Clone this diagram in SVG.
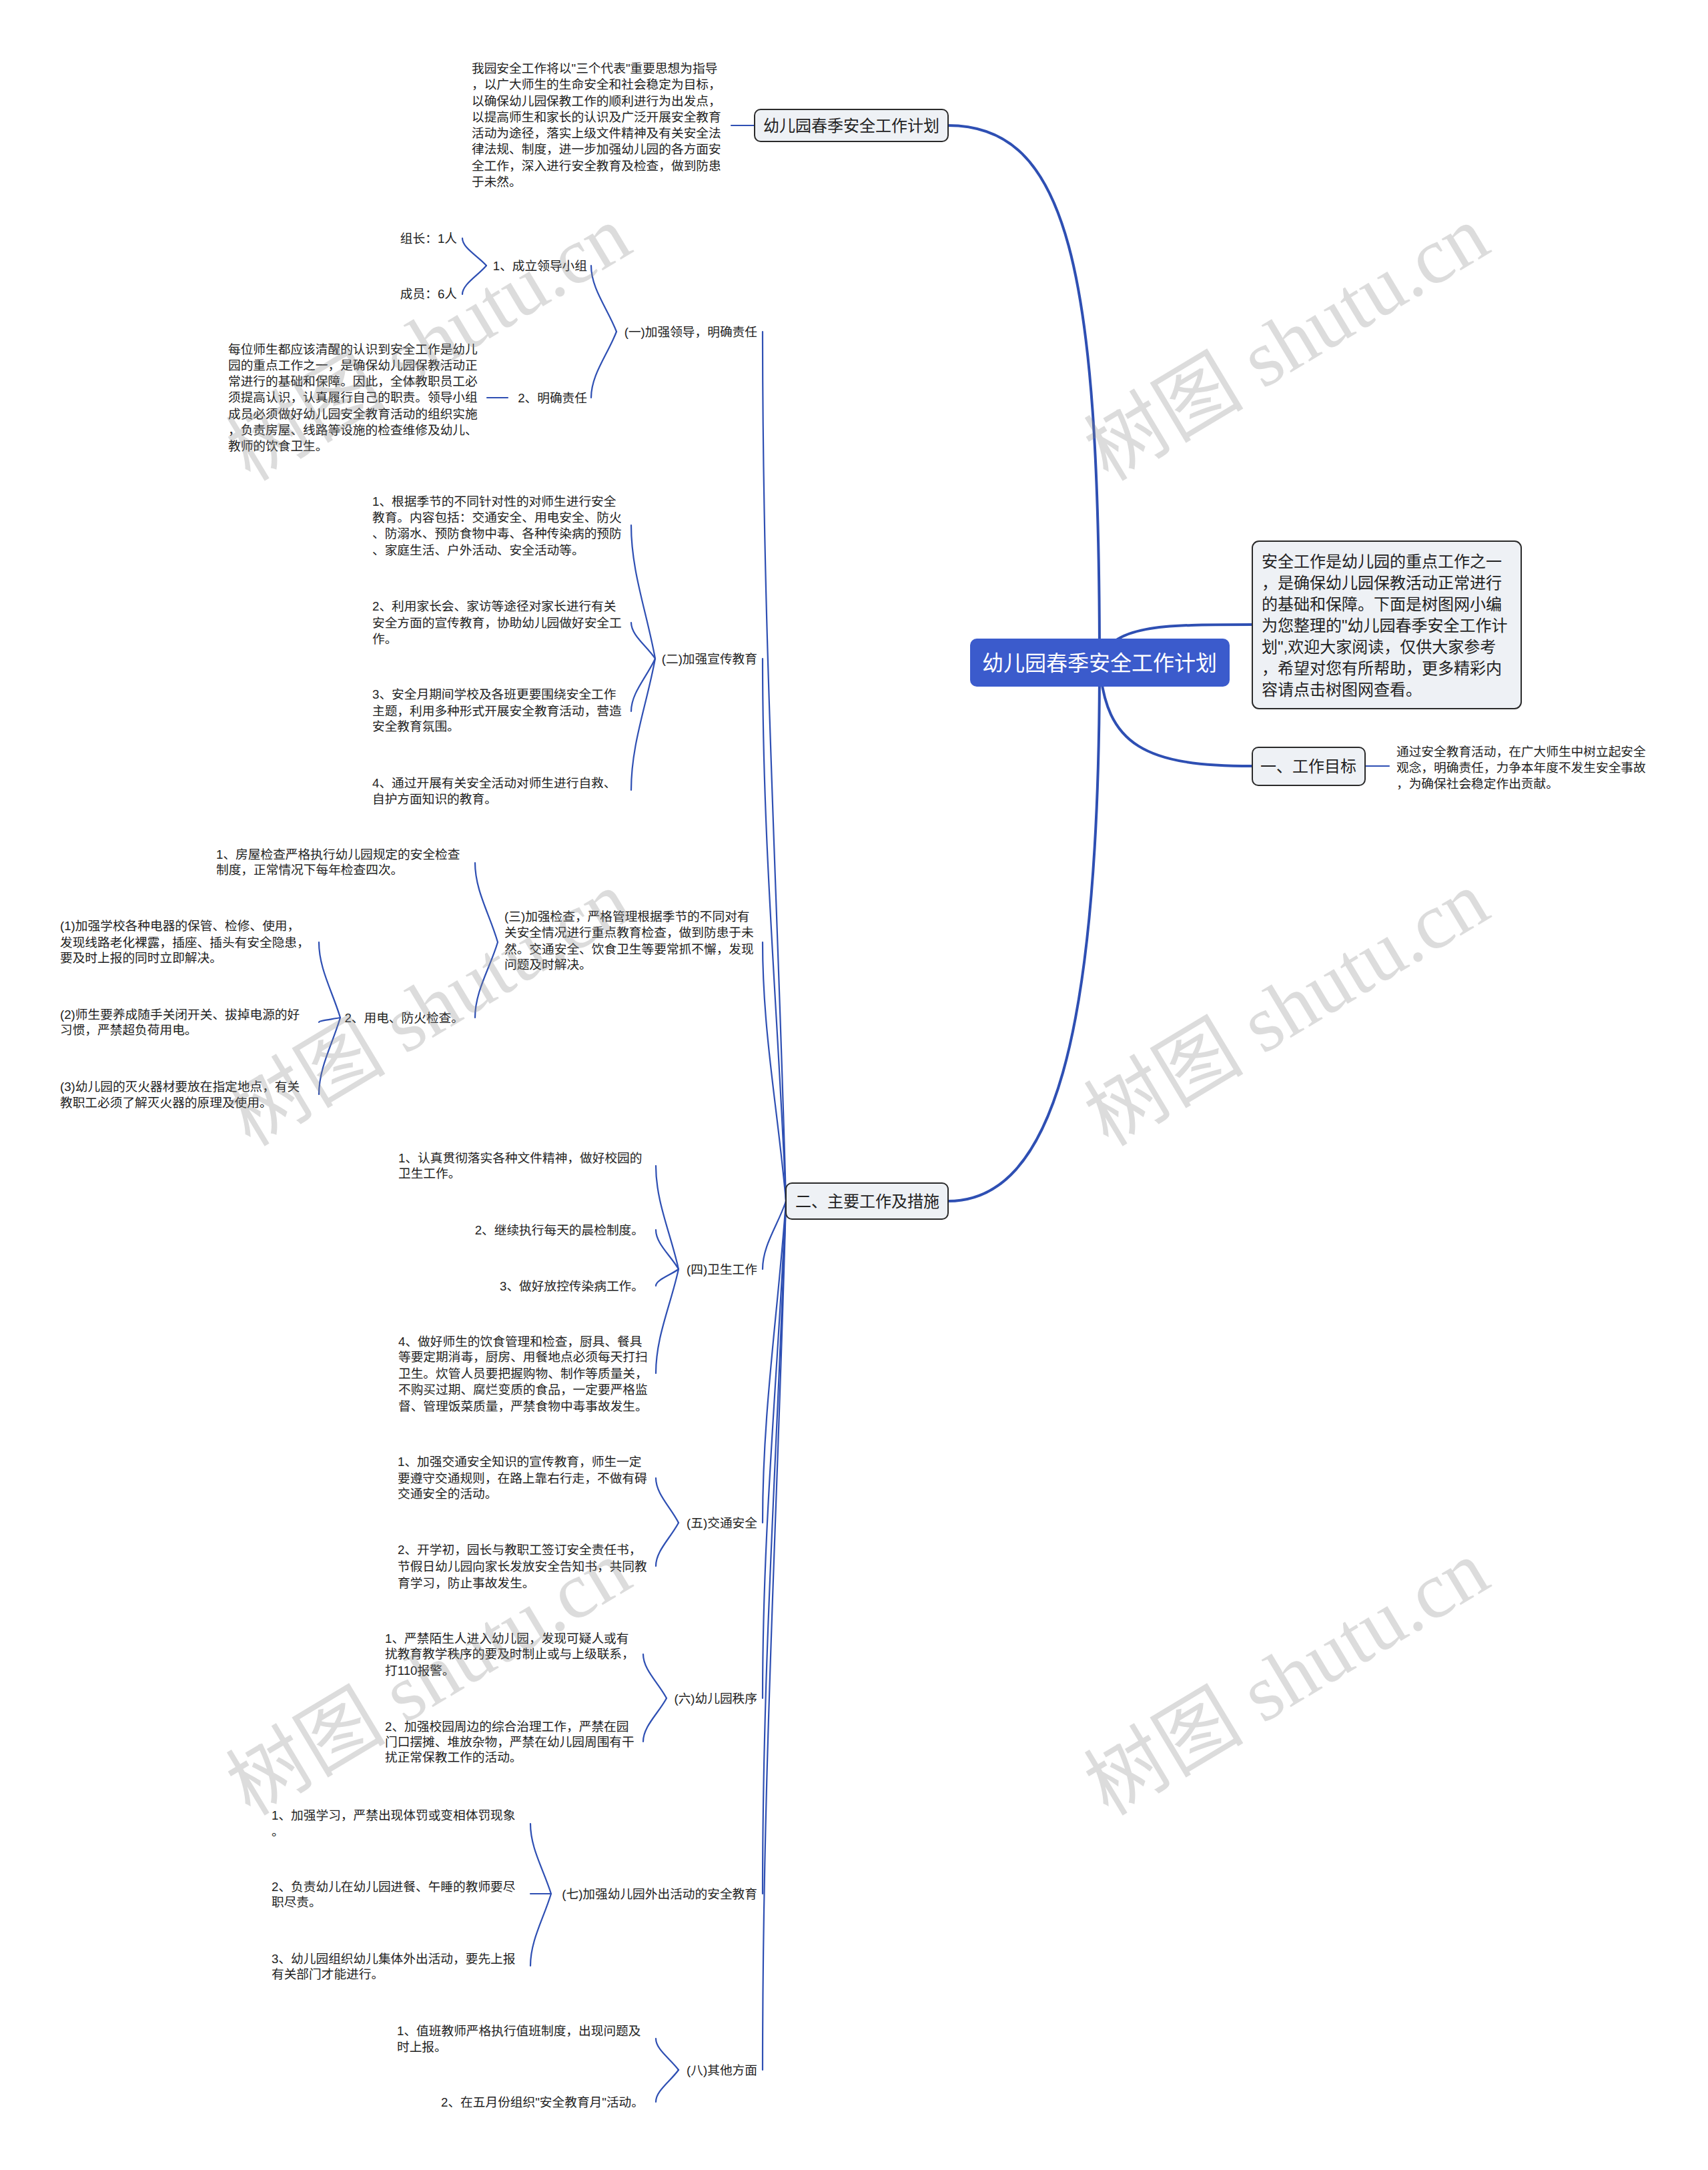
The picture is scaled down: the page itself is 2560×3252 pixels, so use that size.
<svg xmlns="http://www.w3.org/2000/svg" width="2560" height="3252" viewBox="0 0 2560 3252">
<style>
text { font-family: 'Liberation Sans', 'Noto Sans CJK SC', sans-serif; fill: #222; }
.s { font-size: 18.7px; }
.m { font-size: 24px; }
.c { font-size: 32px; fill: #ffffff; }
.e { text-anchor: end; }
.mid { text-anchor: middle; }
.box { fill: #eef1f5; stroke: #2a2a2a; stroke-width: 2; }
.root { fill: #3b5bcc; }
.main { fill: none; stroke: #2e4fb3; stroke-width: 4; stroke-linecap: round; }
.sub { fill: none; stroke: #2e4fb3; stroke-width: 2.2; stroke-linecap: round; }
.wm { font-family: 'Liberation Serif', 'Noto Sans CJK SC', serif; font-size: 120px; fill: #8a8a8a; fill-opacity: 0.3; text-anchor: middle; }
</style>
<rect width="2560" height="3252" fill="#ffffff"/>

<g id="connectors">
  <path class="main" d="M1648,993 C1648,400 1600,188 1421,188"/>
  <path class="main" d="M1648,993 C1665,936 1740,936 1877,936"/>
  <path class="main" d="M1648,993 C1656,1120 1720,1148 1877,1148"/>
  <path class="main" d="M1648,993 C1648,1556 1577,1800 1421,1800"/>
  <path class="sub" d="M1096,188 L1131,188"/>
  <path class="sub" d="M2047,1148 L2082,1148"/>
  <path class="sub" d="M761,596 L730,596"/>
  <path class="sub" d="M1178,1800 C1166,1344 1143,953 1143,497"/>
  <path class="sub" d="M1178,1800 C1166,1515 1143,1272 1143,987"/>
  <path class="sub" d="M1178,1800 C1166,1664 1143,1548 1143,1412"/>
  <path class="sub" d="M1178,1800 C1166,1836 1143,1866 1143,1902"/>
  <path class="sub" d="M1178,1800 C1166,1969 1143,2113 1143,2282"/>
  <path class="sub" d="M1178,1800 C1166,2061 1143,2284 1143,2545"/>
  <path class="sub" d="M1178,1800 C1166,2163 1143,2475 1143,2838"/>
  <path class="sub" d="M1178,1800 C1166,2256 1143,2646 1143,3102"/>
  <path class="sub" d="M924,497 C910.7,462.4 886,432.6 886,398"/>
  <path class="sub" d="M924,497 C910.7,531.6 886,561.4 886,596"/>
  <path class="sub" d="M729,398 C716.4,383.7 693,371.4 693,357"/>
  <path class="sub" d="M729,398 C716.4,413 693,426 693,441"/>
  <path class="sub" d="M982,987 C969.4,917 946,857 946,787"/>
  <path class="sub" d="M982,987 C969.4,968.1 946,951.9 946,933"/>
  <path class="sub" d="M982,987 C969.4,1014.7 946,1038.4 946,1066"/>
  <path class="sub" d="M982,987 C969.4,1056 946,1115 946,1184"/>
  <path class="sub" d="M746,1412 C734.1,1370.4 712,1334.7 712,1293"/>
  <path class="sub" d="M746,1412 C734.1,1451.6 712,1485.5 712,1525"/>
  <path class="sub" d="M510,1525 C498.1,1485.5 478,1451.6 478,1412"/>
  <path class="sub" d="M510,1525 C498.1,1527.5 478,1529.5 478,1532"/>
  <path class="sub" d="M510,1525 C498.1,1565.3 478,1599.8 478,1640"/>
  <path class="sub" d="M1017,1902 C1005.1,1847.75 983,1801.25 983,1747"/>
  <path class="sub" d="M1017,1902 C1005.1,1881.35 983,1863.65 983,1843"/>
  <path class="sub" d="M1017,1902 C1005.1,1910.75 983,1918.25 983,1927"/>
  <path class="sub" d="M1017,1902 C1005.1,1956.6 983,2003.4 983,2058"/>
  <path class="sub" d="M1017,2282 C1005.1,2258.55 983,2238.45 983,2215"/>
  <path class="sub" d="M1017,2282 C1005.1,2304.75 983,2324.25 983,2347"/>
  <path class="sub" d="M999,2545 C986.75,2521.9 964,2502.1 964,2479"/>
  <path class="sub" d="M999,2545 C986.75,2567.75 964,2587.25 964,2610"/>
  <path class="sub" d="M826,2838 C814.45,2801.25 795,2769.75 795,2733"/>
  <path class="sub" d="M826,2838 L795,2838"/>
  <path class="sub" d="M826,2838 C814.45,2875.8 795,2908.2 795,2946"/>
  <path class="sub" d="M1017,3102 C1005.1,3085.55 983,3071.45 983,3055"/>
  <path class="sub" d="M1017,3102 C1005.1,3118.8 983,3133.2 983,3150"/>
</g>

<g id="root">
  <rect class="root" x="1454" y="957" width="389" height="72" rx="10"/>
  <text class="c mid" x="1648" y="1005">幼儿园春季安全工作计划</text>
</g>

<g id="intro">
  <rect class="box" x="1877" y="811" width="403" height="251" rx="10"/>
  <text class="m" x="1891" y="850">安全工作是幼儿园的重点工作之一</text>
  <text class="m" x="1891" y="882">，是确保幼儿园保教活动正常进行</text>
  <text class="m" x="1891" y="914">的基础和保障。下面是树图网小编</text>
  <text class="m" x="1891" y="946">为您整理的"幼儿园春季安全工作计</text>
  <text class="m" x="1891" y="978">划",欢迎大家阅读，仅供大家参考</text>
  <text class="m" x="1891" y="1010">，希望对您有所帮助，更多精彩内</text>
  <text class="m" x="1891" y="1042">容请点击树图网查看。</text>
</g>

<g id="title-branch">
  <rect class="box" x="1131" y="164" width="290" height="48" rx="9"/>
  <text class="m mid" x="1276" y="197">幼儿园春季安全工作计划</text>
</g>
<g id="title-text">
  <text class="s" x="707" y="109">我园安全工作将以"三个代表"重要思想为指导</text>
  <text class="s" x="707" y="133">，以广大师生的生命安全和社会稳定为目标，</text>
  <text class="s" x="707" y="158">以确保幼儿园保教工作的顺利进行为出发点，</text>
  <text class="s" x="707" y="182">以提高师生和家长的认识及广泛开展安全教育</text>
  <text class="s" x="707" y="206">活动为途径，落实上级文件精神及有关安全法</text>
  <text class="s" x="707" y="230">律法规、制度，进一步加强幼儿园的各方面安</text>
  <text class="s" x="707" y="255">全工作，深入进行安全教育及检查，做到防患</text>
  <text class="s" x="707" y="279">于未然。</text>
</g>

<g id="goal">
  <rect class="box" x="1877" y="1120" width="169" height="57" rx="9"/>
  <text class="m mid" x="1961" y="1157">一、工作目标</text>
</g>
<g id="goal-text">
  <text class="s" x="2093" y="1133">通过安全教育活动，在广大师生中树立起安全</text>
  <text class="s" x="2093" y="1157">观念，明确责任，力争本年度不发生安全事故</text>
  <text class="s" x="2093" y="1181">，为确保社会稳定作出贡献。</text>
</g>

<g id="work">
  <rect class="box" x="1178" y="1773" width="243" height="54" rx="9"/>
  <text class="m mid" x="1300" y="1809">二、主要工作及措施</text>
</g>

<g id="sec1">
  <text class="s e" x="1135" y="504">(一)加强领导，明确责任</text>
</g>
<g id="sec1-1"><text class="s e" x="880" y="405">1、成立领导小组</text></g>
<g id="sec1-1a"><text class="s e" x="685" y="364">组长：1人</text></g>
<g id="sec1-1b"><text class="s e" x="685" y="447">成员：6人</text></g>
<g id="sec1-2"><text class="s e" x="880" y="603">2、明确责任</text></g>
<g id="sec1-2a">
  <text class="s" x="342" y="530">每位师生都应该清醒的认识到安全工作是幼儿</text>
  <text class="s" x="342" y="554">园的重点工作之一，是确保幼儿园保教活动正</text>
  <text class="s" x="342" y="578">常进行的基础和保障。因此，全体教职员工必</text>
  <text class="s" x="342" y="602">须提高认识，认真履行自己的职责。领导小组</text>
  <text class="s" x="342" y="627">成员必须做好幼儿园安全教育活动的组织实施</text>
  <text class="s" x="342" y="651">，负责房屋、线路等设施的检查维修及幼儿、</text>
  <text class="s" x="342" y="675">教师的饮食卫生。</text>
</g>

<g id="sec2"><text class="s e" x="1135" y="994">(二)加强宣传教育</text></g>
<g id="sec2-1">
  <text class="s" x="558" y="758">1、根据季节的不同针对性的对师生进行安全</text>
  <text class="s" x="558" y="782">教育。内容包括：交通安全、用电安全、防火</text>
  <text class="s" x="558" y="806">、防溺水、预防食物中毒、各种传染病的预防</text>
  <text class="s" x="558" y="831">、家庭生活、户外活动、安全活动等。</text>
</g>
<g id="sec2-2">
  <text class="s" x="558" y="915">2、利用家长会、家访等途径对家长进行有关</text>
  <text class="s" x="558" y="940">安全方面的宣传教育，协助幼儿园做好安全工</text>
  <text class="s" x="558" y="964">作。</text>
</g>
<g id="sec2-3">
  <text class="s" x="558" y="1047">3、安全月期间学校及各班更要围绕安全工作</text>
  <text class="s" x="558" y="1072">主题，利用多种形式开展安全教育活动，营造</text>
  <text class="s" x="558" y="1095">安全教育氛围。</text>
</g>
<g id="sec2-4">
  <text class="s" x="558" y="1180">4、通过开展有关安全活动对师生进行自救、</text>
  <text class="s" x="558" y="1204">自护方面知识的教育。</text>
</g>

<g id="sec3">
  <text class="s" x="756" y="1380">(三)加强检查，严格管理根据季节的不同对有</text>
  <text class="s" x="756" y="1404">关安全情况进行重点教育检查，做到防患于未</text>
  <text class="s" x="756" y="1429">然。交通安全、饮食卫生等要常抓不懈，发现</text>
  <text class="s" x="756" y="1452">问题及时解决。</text>
</g>
<g id="sec3-1">
  <text class="s" x="324" y="1287">1、房屋检查严格执行幼儿园规定的安全检查</text>
  <text class="s" x="324" y="1310">制度，正常情况下每年检查四次。</text>
</g>
<g id="sec3-2"><text class="s e" x="695" y="1532">2、用电、防火检查。</text></g>
<g id="sec3-2a">
  <text class="s" x="90" y="1394">(1)加强学校各种电器的保管、检修、使用，</text>
  <text class="s" x="90" y="1419">发现线路老化裸露，插座、插头有安全隐患，</text>
  <text class="s" x="90" y="1442">要及时上报的同时立即解决。</text>
</g>
<g id="sec3-2b">
  <text class="s" x="90" y="1527">(2)师生要养成随手关闭开关、拔掉电源的好</text>
  <text class="s" x="90" y="1550">习惯，严禁超负荷用电。</text>
</g>
<g id="sec3-2c">
  <text class="s" x="90" y="1635">(3)幼儿园的灭火器材要放在指定地点，有关</text>
  <text class="s" x="90" y="1659">教职工必须了解灭火器的原理及使用。</text>
</g>

<g id="sec4"><text class="s e" x="1135" y="1909">(四)卫生工作</text></g>
<g id="sec4-1">
  <text class="s" x="597" y="1742">1、认真贯彻落实各种文件精神，做好校园的</text>
  <text class="s" x="597" y="1765">卫生工作。</text>
</g>
<g id="sec4-2"><text class="s e" x="965" y="1850">2、继续执行每天的晨检制度。</text></g>
<g id="sec4-3"><text class="s e" x="965" y="1934">3、做好放控传染病工作。</text></g>
<g id="sec4-4">
  <text class="s" x="597" y="2017">4、做好师生的饮食管理和检查，厨具、餐具</text>
  <text class="s" x="597" y="2040">等要定期消毒，厨房、用餐地点必须每天打扫</text>
  <text class="s" x="597" y="2065">卫生。炊管人员要把握购物、制作等质量关，</text>
  <text class="s" x="597" y="2089">不购买过期、腐烂变质的食品，一定要严格监</text>
  <text class="s" x="597" y="2114">督、管理饭菜质量，严禁食物中毒事故发生。</text>
</g>

<g id="sec5"><text class="s e" x="1135" y="2289">(五)交通安全</text></g>
<g id="sec5-1">
  <text class="s" x="596" y="2197">1、加强交通安全知识的宣传教育，师生一定</text>
  <text class="s" x="596" y="2222">要遵守交通规则，在路上靠右行走，不做有碍</text>
  <text class="s" x="596" y="2245">交通安全的活动。</text>
</g>
<g id="sec5-2">
  <text class="s" x="596" y="2329">2、开学初，园长与教职工签订安全责任书，</text>
  <text class="s" x="596" y="2354">节假日幼儿园向家长发放安全告知书，共同教</text>
  <text class="s" x="596" y="2379">育学习，防止事故发生。</text>
</g>

<g id="sec6"><text class="s e" x="1135" y="2552">(六)幼儿园秩序</text></g>
<g id="sec6-1">
  <text class="s" x="577" y="2462">1、严禁陌生人进入幼儿园，发现可疑人或有</text>
  <text class="s" x="577" y="2485">扰教育教学秩序的要及时制止或与上级联系，</text>
  <text class="s" x="577" y="2510">打110报警。</text>
</g>
<g id="sec6-2">
  <text class="s" x="577" y="2594">2、加强校园周边的综合治理工作，严禁在园</text>
  <text class="s" x="577" y="2617">门口摆摊、堆放杂物，严禁在幼儿园周围有干</text>
  <text class="s" x="577" y="2640">扰正常保教工作的活动。</text>
</g>

<g id="sec7"><text class="s e" x="1135" y="2845">(七)加强幼儿园外出活动的安全教育</text></g>
<g id="sec7-1">
  <text class="s" x="407" y="2727">1、加强学习，严禁出现体罚或变相体罚现象</text>
  <text class="s" x="407" y="2751">。</text>
</g>
<g id="sec7-2">
  <text class="s" x="407" y="2834">2、负责幼儿在幼儿园进餐、午睡的教师要尽</text>
  <text class="s" x="407" y="2857">职尽责。</text>
</g>
<g id="sec7-3">
  <text class="s" x="407" y="2942">3、幼儿园组织幼儿集体外出活动，要先上报</text>
  <text class="s" x="407" y="2965">有关部门才能进行。</text>
</g>

<g id="sec8"><text class="s e" x="1135" y="3109">(八)其他方面</text></g>
<g id="sec8-1">
  <text class="s" x="595" y="3050">1、值班教师严格执行值班制度，出现问题及</text>
  <text class="s" x="595" y="3074">时上报。</text>
</g>
<g id="sec8-2"><text class="s e" x="965" y="3157">2、在五月份组织"安全教育月"活动。</text></g>

<g id="watermarks">
  <text class="wm" x="643" y="555" transform="rotate(-31 643 515)">树图 shutu.cn</text>
  <text class="wm" x="1929" y="555" transform="rotate(-31 1929 515)">树图 shutu.cn</text>
  <text class="wm" x="643" y="1552" transform="rotate(-31 643 1512)">树图 shutu.cn</text>
  <text class="wm" x="1929" y="1552" transform="rotate(-31 1929 1512)">树图 shutu.cn</text>
  <text class="wm" x="643" y="2555" transform="rotate(-31 643 2515)">树图 shutu.cn</text>
  <text class="wm" x="1929" y="2555" transform="rotate(-31 1929 2515)">树图 shutu.cn</text>
</g>
</svg>
